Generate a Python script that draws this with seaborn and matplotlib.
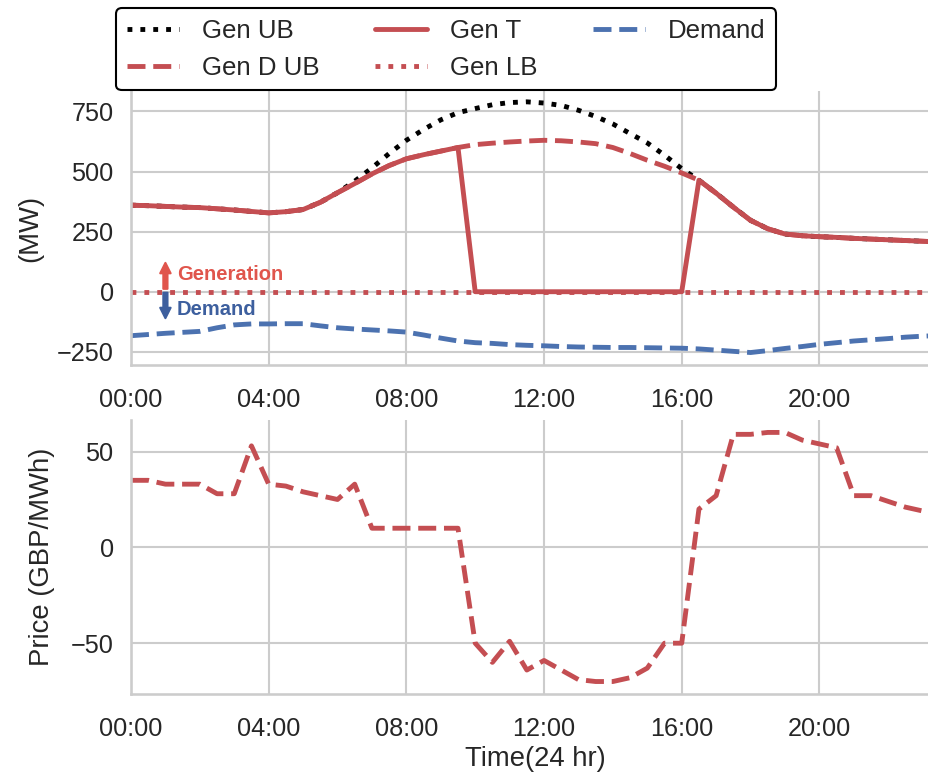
import numpy as np
import pandas as pd
import matplotlib
matplotlib.use("Agg")
import matplotlib.pyplot as plt
import matplotlib.dates as mdates
import seaborn as sns

# Half-hourly schedule for one day
times = pd.date_range("2020-01-01 00:00", periods=48, freq="30min")

gen_ub = [360, 358, 355, 352, 350, 345, 340, 334, 328, 333, 342, 372,
          412, 460, 515, 575, 630, 675, 715, 745, 762, 778, 787, 790,
          785, 775, 755, 729, 698, 658, 619, 568, 512, 464, 410, 352,
          297, 262, 240, 233, 229, 226, 222, 219, 216, 213, 210, 207]

gen_d_ub = [360, 358, 355, 352, 350, 345, 340, 334, 328, 333, 342, 372,
            412, 450, 490, 525, 553, 570, 585, 600, 612, 618, 623, 627,
            630, 628, 623, 616, 600, 575, 547, 522, 494, 464, 410, 352,
            297, 262, 240, 233, 229, 226, 222, 219, 216, 213, 210, 207]

gen_t = [360, 358, 355, 352, 350, 345, 340, 334, 328, 333, 342, 372,
         412, 450, 490, 525, 553, 570, 585, 600, 0, 0, 0, 0,
         0, 0, 0, 0, 0, 0, 0, 0, 0, 464, 410, 352,
         297, 262, 240, 233, 229, 226, 222, 219, 216, 213, 210, 207]

gen_lb = [0] * 48

demand = [-183, -178, -173, -169, -165, -150, -138, -134, -134, -133, -133, -142,
          -150, -155, -159, -163, -168, -180, -193, -205, -212, -215, -220, -223,
          -225, -228, -230, -231, -232, -232, -233, -234, -235, -238, -243, -248,
          -253, -245, -236, -228, -219, -212, -205, -200, -195, -189, -185, -182]

price = [35, 35, 33, 33, 33, 28, 28, 53, 33, 32, 29, 27,
         25, 33, 10, 10, 10, 10, 10, 10, -50, -60, -49, -64,
         -59, -64, -69, -70, -70, -68, -63, -50, -50, 20, 27, 59,
         59, 60, 60, 56, 54, 52, 27, 27, 24, 21, 19, 17]

RED = "#C44E52"
BLUE = "#4C72B0"
GEN_RED = "#E0554C"
DEM_BLUE = "#3D5F9E"

sns.set_theme(context="talk", style="whitegrid", font_scale=1.1)
plt.rcParams["font.family"] = ["Liberation Sans", "DejaVu Sans"]

fig = plt.figure(figsize=(9.29, 7.76), dpi=100)
ax1 = fig.add_axes([0.141, 0.5296, 0.8707, 0.3531])
ax2 = fig.add_axes([0.141, 0.1057, 0.8707, 0.3531])

lw = 3.5
sns.lineplot(x=times, y=gen_ub, ax=ax1, color="black", linestyle=":", lw=lw, label="Gen UB")
sns.lineplot(x=times, y=gen_d_ub, ax=ax1, color=RED, linestyle="--", lw=lw, label="Gen D UB")
sns.lineplot(x=times, y=gen_t, ax=ax1, color=RED, linestyle="-", lw=lw, label="Gen T")
sns.lineplot(x=times, y=gen_lb, ax=ax1, color=RED, linestyle=":", lw=lw, label="Gen LB")
sns.lineplot(x=times, y=demand, ax=ax1, color=BLUE, linestyle="--", lw=lw, label="Demand")

sns.lineplot(x=times, y=price, ax=ax2, color=RED, linestyle="--", lw=lw, legend=False)

# Direction markers for generation / demand
x_arrow = pd.Timestamp("2020-01-01 01:00")
x_text = pd.Timestamp("2020-01-01 01:20")
arrow_style = "simple,head_width=0.75,head_length=0.75,tail_width=0.3"
ax1.annotate("", xy=(x_arrow, 120), xytext=(x_arrow, 12),
             arrowprops=dict(arrowstyle=arrow_style, color=GEN_RED,
                             mutation_scale=10, shrinkA=0, shrinkB=0))
ax1.annotate("", xy=(x_arrow, -110), xytext=(x_arrow, -4),
             arrowprops=dict(arrowstyle=arrow_style, color=DEM_BLUE,
                             mutation_scale=10, shrinkA=0, shrinkB=0))
ax1.text(x_text, 72, "Generation", color=GEN_RED, fontsize=14.5, fontweight="bold",
         va="center", ha="left")
ax1.text(x_text, -76, "Demand", color=DEM_BLUE, fontsize=14.5, fontweight="bold",
         va="center", ha="left")

for ax in (ax1, ax2):
    ax.set_xlim(times[0], times[-1])
    ax.xaxis.set_major_locator(mdates.HourLocator(byhour=range(0, 24, 4)))
    ax.xaxis.set_major_formatter(mdates.DateFormatter("%H:%M"))
    ax.tick_params(axis="x", pad=7.5)
    sns.despine(ax=ax)

ax1.set_ylim(-305, 835)
ax1.set_yticks([-250, 0, 250, 500, 750])
ax1.set_ylabel("(MW)", labelpad=10)
ax1.set_xlabel("")

ax2.set_yticks([-50, 0, 50])
ax2.set_ylabel("Price (GBP/MWh)", labelpad=11)
ax2.set_xlabel("Time(24 hr)")

ax1.legend(ncol=3, loc="lower left", bbox_to_anchor=(116.5 / 929, 1 - 90 / 776),
           bbox_transform=fig.transFigure, borderaxespad=0, frameon=True,
           edgecolor="black", framealpha=1, fontsize=18.6,
           handletextpad=0.9, columnspacing=2.15)
leg = ax1.get_legend()
leg.get_frame().set_linewidth(1.5)

fig.savefig("out.png", dpi=100)
